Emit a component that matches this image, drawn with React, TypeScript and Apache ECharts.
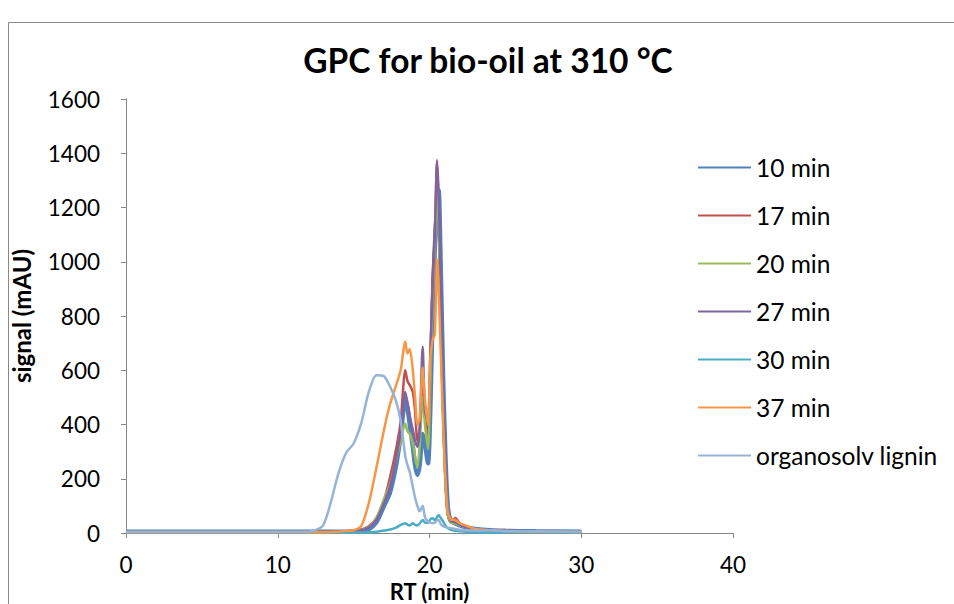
import React, { useEffect, useRef } from "react";
import * as echarts from "echarts";

const rt = [0, 5, 10, 12, 13, 14, 14.5, 15, 15.5, 16, 16.5, 17, 17.4, 17.8, 18.1, 18.4, 18.55, 18.7, 18.9, 19.05, 19.2, 19.35, 19.55, 19.7, 19.9, 20.05, 20.2, 20.35, 20.5, 20.6, 20.75, 20.9, 21.05, 21.2, 21.4, 21.7, 22, 22.5, 23, 24, 25, 27, 30];

const min10 = [5, 5, 5, 5, 5, 5, 5, 6, 9, 15, 40, 100, 150, 250, 360, 490, 460, 400, 320, 250, 214, 250, 365, 330, 257, 450, 800, 1050, 1200, 1264, 950, 560, 280, 100, 45, 35, 28, 20, 15, 10, 8, 6, 5];
const min17 = [5, 5, 5, 5, 5, 5, 6, 8, 12, 25, 55, 120, 205, 310, 410, 600, 560, 545, 520, 450, 340, 380, 560, 450, 340, 600, 940, 1100, 1375, 1200, 800, 450, 200, 70, 40, 55, 35, 20, 15, 10, 8, 6, 5];
const min20 = [5, 5, 5, 5, 5, 5, 6, 8, 10, 22, 55, 125, 180, 270, 340, 404, 375, 365, 330, 280, 240, 320, 500, 400, 310, 550, 850, 1050, 1280, 1150, 800, 420, 200, 70, 40, 35, 28, 20, 15, 10, 8, 6, 5];
const min27 = [5, 5, 5, 5, 5, 5, 5, 7, 9, 20, 48, 110, 170, 275, 375, 520, 480, 430, 380, 340, 318, 380, 687, 450, 410, 650, 900, 1100, 1370, 1250, 900, 480, 260, 90, 45, 40, 30, 20, 15, 10, 8, 6, 5];
const min30 = [2, 2, 2, 1, 1, 1, 1, 2, 2, 3, 5, 9, 13, 20, 30, 36, 30, 28, 36, 30, 28, 35, 48, 38, 38, 50, 54, 48, 58, 66, 55, 42, 28, 18, 12, 8, 6, 4, 3, 2, 2, 2, 2];
const min37 = [3, 3, 3, 3, 3, 5, 7, 10, 25, 110, 240, 380, 475, 545, 600, 705, 662, 678, 600, 500, 400, 420, 610, 490, 400, 640, 711, 730, 1010, 900, 650, 400, 200, 80, 50, 48, 36, 25, 15, 10, 7, 5, 4];
const lignin = [5, 5, 5, 5, 29, 220, 295, 330, 405, 520, 582, 578, 540, 485, 415, 285, 250, 225, 170, 130, 100, 80, 100, 58, 42, 38, 36, 38, 46, 48, 32, 25, 22, 20, 18, 15, 12, 10, 9, 10, 7, 6, 5];

const seriesNames = ["10 min", "17 min", "20 min", "27 min", "30 min", "37 min", "organosolv lignin"];
const seriesValues = [min10, min17, min20, min27, min30, min37, lignin];
const seriesColors = ["#4F81BD", "#C0504D", "#9BBB59", "#8064A2", "#4BACC6", "#F79646", "#95B3D7"];
const seriesWidths = [4.5, 2.5, 2.5, 2.5, 2.5, 2.5, 2.5];

const FONT = "Lato";

export default function App() {
  const ref = useRef<HTMLDivElement>(null);
  useEffect(() => {
    document.body.style.margin = "0";
    const chart = echarts.init(ref.current!, null, { renderer: "svg" });
    chart.setOption({
      animation: false,
      backgroundColor: "#ffffff",
      title: {
        text: "GPC for bio-oil at 310 °C",
        left: 483,
        top: 38,
        textAlign: "center",
        textStyle: { fontFamily: FONT, fontSize: 33.5, fontWeight: "bold", color: "#000" },
      },
      graphic: [
        {
          type: "rect",
          shape: { x: 8.5, y: 22.5, width: 1000, height: 1000 },
          style: { fill: "none", stroke: "#888888", lineWidth: 1 },
          silent: true,
        },
      ],
      legend: {
        orient: "vertical",
        left: 692,
        top: 150,
        itemWidth: 53,
        itemHeight: 14,
        itemGap: 23,
        itemStyle: { opacity: 0 },
        textStyle: { fontFamily: FONT, fontSize: 24.5, color: "#000", lineHeight: 24 },
        data: seriesNames,
      },
      grid: { left: 126, right: 221, top: 99, bottom: 71, outerBoundsMode: "none", containLabel: false },
      xAxis: {
        type: "value",
        min: 0,
        max: 40,
        interval: 10,
        name: "RT (min)",
        nameLocation: "middle",
        nameGap: 40,
        nameTextStyle: { fontFamily: FONT, fontSize: 22, lineHeight: 22, fontWeight: "bold", color: "#000" },
        axisLine: { show: true, onZero: false, lineStyle: { color: "#868686", width: 1 } },
        axisTick: { show: true, inside: false, length: 5, lineStyle: { color: "#868686" } },
        axisLabel: { margin: 20, fontFamily: FONT, fontSize: 22.5, color: "#000" },
        splitLine: { show: false },
      },
      yAxis: {
        type: "value",
        min: 0,
        max: 1600,
        interval: 200,
        name: "signal (mAU)",
        nameLocation: "middle",
        nameGap: 93,
        nameTextStyle: { fontFamily: FONT, fontSize: 24, fontWeight: "bold", color: "#000" },
        axisLine: { show: true, lineStyle: { color: "#868686", width: 1 } },
        axisTick: { show: true, inside: false, length: 5, lineStyle: { color: "#868686" } },
        axisLabel: {
          margin: 26,
          fontFamily: FONT,
          fontSize: 22.5,
          color: "#000",
          formatter: (v: number) => String(v),
        },
        splitLine: { show: false },
      },
      series: seriesNames.map((name, i) => ({
        name,
        type: "line",
        data: rt.map((x, j) => [x, seriesValues[i][j]]),
        symbol: "none",
        smooth: 0.25,
        color: seriesColors[i],
        lineStyle: { color: seriesColors[i], width: seriesWidths[i] },
      })),
    });
    return () => chart.dispose();
  }, []);
  return <div ref={ref} style={{ width: 954, height: 604 }} />;
}
